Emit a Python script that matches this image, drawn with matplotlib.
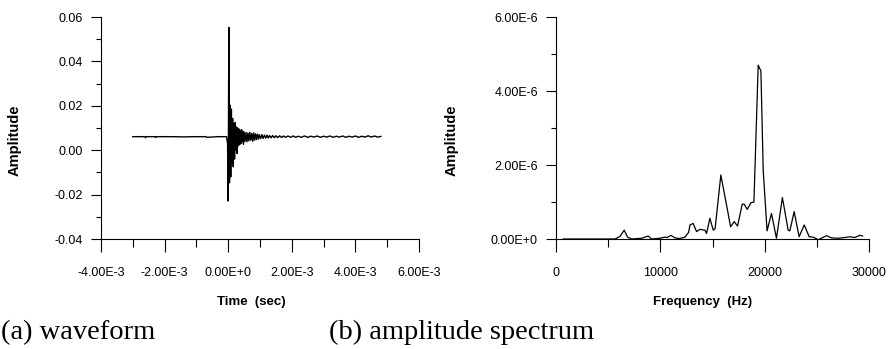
import matplotlib
matplotlib.use('Agg')
import matplotlib.pyplot as plt
import numpy as np

# (a) waveform: time in ms, amplitude
wave_t_ms = [-3.00, -2.62, -2.60, -2.58, -2.30, -2.28, -2.26, -1.80, -1.40, -1.00,
             -0.70, -0.68, -0.30, -0.05, -0.02,
             0.00, 0.02, 0.04, 0.06, 0.08, 0.10, 0.12, 0.14, 0.16, 0.18,
             0.20, 0.22, 0.24, 0.26, 0.28, 0.30, 0.32, 0.34, 0.36, 0.38,
             0.40, 0.42, 0.44, 0.46, 0.48, 0.50, 0.53, 0.56, 0.59, 0.62,
             0.65, 0.68, 0.71, 0.74, 0.77, 0.80, 0.83, 0.86, 0.89, 0.92,
             0.95, 0.98, 1.02, 1.06, 1.10, 1.14, 1.18, 1.22, 1.26, 1.30,
             1.35, 1.40, 1.45, 1.50, 1.56, 1.62, 1.68, 1.74, 1.80, 1.88,
             1.96, 2.04, 2.12, 2.20, 2.30, 2.40, 2.50, 2.60, 2.70, 2.80,
             2.90, 3.00, 3.10, 3.20, 3.30, 3.40, 3.50, 3.60, 3.70, 3.80,
             3.90, 4.00, 4.10, 4.20, 4.30, 4.40, 4.50, 4.60, 4.70, 4.80]
wave_amp = [0.0061, 0.0061, 0.0056, 0.0061, 0.0061, 0.0057, 0.0061, 0.0061, 0.0060, 0.0061,
            0.0061, 0.0058, 0.0061, 0.0061, 0.0030,
            -0.0229, 0.0553, -0.0147, 0.0203, -0.0120, 0.0185, -0.0060, 0.0143, -0.0075, 0.0120,
            -0.0040, 0.0125, 0.0000, 0.0105, -0.0015, 0.0100, 0.0020, 0.0095, 0.0025, 0.0090,
            0.0030, 0.0092, 0.0040, 0.0085, 0.0027, 0.0082, 0.0040, 0.0080, 0.0038, 0.0078,
            0.0042, 0.0080, 0.0045, 0.0076, 0.0040, 0.0078, 0.0045, 0.0074, 0.0048, 0.0072,
            0.0050, 0.0070, 0.0052, 0.0070, 0.0053, 0.0068, 0.0054, 0.0068, 0.0055, 0.0066,
            0.0056, 0.0066, 0.0056, 0.0065, 0.0057, 0.0065, 0.0057, 0.0064, 0.0058, 0.0064,
            0.0058, 0.0064, 0.0058, 0.0063, 0.0058, 0.0064, 0.0058, 0.0063, 0.0059, 0.0064,
            0.0058, 0.0063, 0.0059, 0.0064, 0.0058, 0.0063, 0.0059, 0.0064, 0.0058, 0.0063,
            0.0059, 0.0064, 0.0058, 0.0063, 0.0059, 0.0065, 0.0059, 0.0064, 0.0059, 0.0062]

# (b) amplitude spectrum: frequency in Hz, amplitude in units of 1E-6
spec_f = [700, 2000, 4000, 5650, 6130, 6540, 6860, 7250, 8210, 8840,
          9160, 9960, 10440, 10660, 11010, 11400, 11810, 12360, 12710, 12840,
          13150, 13470, 13790, 14270, 14430, 14750, 15070, 15250, 15800, 16190,
          16440, 16730, 17080, 17400, 17850, 18040, 18330, 18680, 18970, 19380,
          19640, 19860, 20230, 20650, 21130, 21700, 22250, 22410, 22830, 23300,
          23790, 24270, 24650, 25130, 25930, 26400, 27040, 27680, 28160, 28640,
          29120, 29380]
spec_amp = [0.0, 0.0, 0.0, 0.0, 0.07, 0.24, 0.05, 0.0, 0.02, 0.08,
            0.0, 0.02, 0.05, 0.04, 0.10, 0.03, 0.01, 0.05, 0.18, 0.38,
            0.42, 0.20, 0.26, 0.24, 0.15, 0.56, 0.24, 0.28, 1.73, 1.15,
            0.78, 0.33, 0.47, 0.35, 0.94, 0.94, 0.80, 0.98, 1.00, 4.70,
            4.54, 1.86, 0.22, 0.69, 0.02, 1.12, 0.24, 0.22, 0.74, 0.06,
            0.38, 0.06, 0.05, -0.02, 0.09, 0.03, 0.02, 0.04, 0.06, 0.04,
            0.10, 0.08]

wave_xticks = [-4e-3, -2e-3, 0, 2e-3, 4e-3, 6e-3]
wave_xlabels = ['-4.00E-3', '-2.00E-3', '0.00E+0', '2.00E-3', '4.00E-3', '6.00E-3']
wave_yticks = [-0.04, -0.02, 0.0, 0.02, 0.04, 0.06]
wave_ylabels = ['-0.04', '-0.02', '0.00', '0.02', '0.04', '0.06']
spec_xticks = [0, 10000, 20000, 30000]
spec_xlabels = ['0', '10000', '20000', '30000']
spec_yticks = [0, 2e-6, 4e-6, 6e-6]
spec_ylabels = ['0.00E+0', '2.00E-6', '4.00E-6', '6.00E-6']

sans = 'Liberation Sans'
W, H = 888, 349

fig = plt.figure(figsize=(8.88, 3.49), dpi=100)
ax1 = fig.add_axes([101 / W, 1 - 239 / H, 318 / W, 222 / H])
ax2 = fig.add_axes([556 / W, 1 - 239 / H, 313 / W, 222 / H])

ax1.plot(np.array(wave_t_ms) * 1e-3, wave_amp, color='black', linewidth=1.0)
ax2.plot(spec_f, np.array(spec_amp) * 1e-6, color='black', linewidth=0.9)

ax1.set_xlim(-4e-3, 6e-3)
ax1.set_ylim(-0.04, 0.06)
ax2.set_xlim(0, 30000)
ax2.set_ylim(0, 6e-6)

for ax, xt, xl, yt, yl in [(ax1, wave_xticks, wave_xlabels, wave_yticks, wave_ylabels),
                           (ax2, spec_xticks, spec_xlabels, spec_yticks, spec_ylabels)]:
    ax.spines['top'].set_visible(False)
    ax.spines['right'].set_visible(False)
    ax.spines['left'].set_linewidth(0.8)
    ax.spines['bottom'].set_linewidth(0.8)
    ax.set_xticks(xt)
    ax.set_xticklabels(xl, fontsize=9, family=sans)
    ax.set_yticks(yt)
    ax.set_yticklabels(yl, fontsize=9, family=sans)
    # minor ticks halfway between the labelled ones
    ax.set_xticks([(a + b) / 2 for a, b in zip(xt[:-1], xt[1:])], minor=True)
    ax.set_yticks([(a + b) / 2 for a, b in zip(yt[:-1], yt[1:])], minor=True)
    ax.tick_params(axis='x', which='major', direction='out', length=9, width=0.8, pad=11)
    ax.tick_params(axis='x', which='minor', direction='out', length=5.5, width=0.8)
    ax.tick_params(axis='y', which='major', direction='out', length=7, width=0.8, pad=6)
    ax.tick_params(axis='y', which='minor', direction='out', length=3.5, width=0.8)

fig.text(15 / W, 1 - 140 / H, 'Amplitude', rotation=90, ha='center', va='center',
         fontsize=10.5, fontweight='bold', family=sans)
fig.text(452 / W, 1 - 140 / H, 'Amplitude', rotation=90, ha='center', va='center',
         fontsize=10.5, fontweight='bold', family=sans)
fig.text(251 / W, 1 - 302 / H, 'Time  (sec)', ha='center', va='center',
         fontsize=9.5, fontweight='bold', family=sans)
fig.text(703 / W, 1 - 302 / H, 'Frequency  (Hz)', ha='center', va='center',
         fontsize=9.5, fontweight='bold', family=sans)

fig.text(0.001, 1 - 339 / H, '(a) waveform', ha='left', va='baseline',
         fontsize=20.5, family='Liberation Serif')
fig.text(329 / W, 1 - 339 / H, '(b) amplitude spectrum', ha='left', va='baseline',
         fontsize=20.5, family='Liberation Serif')

fig.savefig('out.png', dpi=100)
